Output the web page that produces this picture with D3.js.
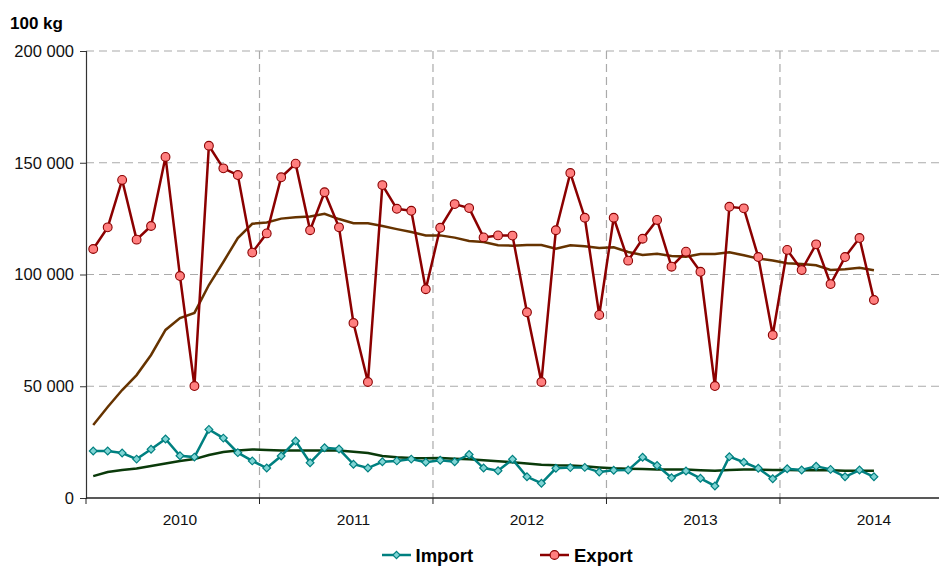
<!DOCTYPE html>
<html><head><meta charset="utf-8">
<script src="https://cdn.jsdelivr.net/npm/d3@7"></script>
<style>body{margin:0;background:#fff;} text{font-family:"Liberation Sans",Arial,sans-serif;}</style>
</head><body>
<svg id="c" width="944" height="566"></svg>
<script>
// Monthly data Jan 2010 .. Jul 2014 (index 0..54), unit 100 kg
const yearLabels = ["2010","2011","2012","2013","2014"];
const yearLabelIndex = [6,18,30,42,54];
const yTicks = [0,50000,100000,150000,200000];

const exportVals = [111400,121100,142300,115600,121700,152600,99300,50100,157600,147500,144500,109800,
  118400,143500,149600,119800,136800,121100,78300,51900,140000,129400,128500,93400,
  120900,131500,129700,116600,117500,117400,83100,51900,119800,145400,125400,81900,
  125400,106200,116000,124400,103500,110200,101200,50100,130300,129600,107800,72900,
  111000,102000,113500,95700,107800,116300,88600];
const exportMA = [32700,40700,48300,55000,64000,75200,80500,82800,95300,105600,116300,122700,
  123300,125000,125600,126000,127200,124800,122900,122900,121700,120300,119000,117500,
  117500,116500,115000,114500,113100,112900,113200,113200,111500,113100,112600,111900,
  112200,110100,108700,109300,108300,108000,109200,109200,109900,108600,107100,106300,
  105000,104700,104100,102000,102300,103000,101900];
const importVals = [21000,21000,20100,17400,21800,26400,18900,18300,30700,26800,20300,16600,
  13400,18800,25500,15800,22500,21900,15100,13400,16200,16600,17400,16000,
  16900,16200,19500,13400,12200,17300,9500,6600,13300,13600,13700,11600,
  12400,12500,18200,14500,9100,12100,8800,5400,18500,16000,13300,8600,
  13100,12500,14200,12800,9500,12500,9500];
const importMA = [9800,11600,12500,13200,14300,15400,16600,17400,19200,20600,21300,21700,
  21500,21300,21200,21200,21200,21200,20700,20100,18800,18200,17900,17800,
  17900,17600,17300,16900,16400,16000,15400,14900,14600,14500,14200,13700,
  13300,13100,13000,12800,12800,12700,12400,12200,12500,12700,12700,12500,
  12500,12400,12400,12400,12200,12200,12200];

const svg = d3.select("#c");
const L = 86, R = 939, T = 51, B = 498;
const x = d3.scaleLinear().domain([0, 59]).range([L, R]);
const xc = i => x(i + 0.5);
const y = d3.scaleLinear().domain([0, 200000]).range([B, T]);

// horizontal grid
svg.append("g").selectAll("line").data(yTicks.filter(d => d > 0)).join("line")
  .attr("x1", L).attr("x2", R).attr("y1", d => y(d)).attr("y2", d => y(d))
  .attr("stroke", "#aaa").attr("stroke-width", 1.2).attr("stroke-dasharray", "8,5");
// vertical grid at year boundaries
const bounds = [12, 24, 36, 48];
svg.append("g").selectAll("line").data(bounds).join("line")
  .attr("x1", d => x(d)).attr("x2", d => x(d)).attr("y1", T).attr("y2", B)
  .attr("stroke", "#aaa").attr("stroke-width", 1.2).attr("stroke-dasharray", "8,5");

// y axis
const yAxis = d3.axisLeft(y).tickValues(yTicks).tickSize(6).tickPadding(6)
  .tickFormat(d => d3.format(",")(d).replace(/,/g, " "));
const gy = svg.append("g").attr("transform", `translate(${L},0)`).call(yAxis);
gy.select(".domain").attr("stroke", "#333").attr("stroke-width", 1.2);
gy.selectAll(".tick line").attr("stroke", "#333");
gy.selectAll("text").attr("font-size", 16.5).attr("fill", "#111").attr("font-family", "Liberation Sans, Arial, sans-serif");

// x axis line and ticks
svg.append("line").attr("x1", L).attr("x2", R).attr("y1", B).attr("y2", B).attr("stroke", "#222").attr("stroke-width", 1.3);
svg.append("g").selectAll("line").data([0, ...bounds]).join("line")
  .attr("x1", d => x(d)).attr("x2", d => x(d)).attr("y1", B).attr("y2", B + 6).attr("stroke", "#222");
svg.append("g").selectAll("text").data(yearLabels).join("text")
  .attr("x", (d, i) => xc(yearLabelIndex[i])).attr("y", 525)
  .attr("text-anchor", "middle").attr("font-size", 15.5).attr("fill", "#111").text(d => d);

// unit label
svg.append("text").attr("x", 10).attr("y", 29).attr("font-size", 17).attr("font-weight", "bold").text("100 kg");

const line = d3.line().x((d, i) => xc(i)).y(d => y(d));

// moving averages
svg.append("path").datum(exportMA).attr("d", line).attr("fill", "none").attr("stroke", "#663300").attr("stroke-width", 2.5);
svg.append("path").datum(importMA).attr("d", line).attr("fill", "none").attr("stroke", "#0a3a0a").attr("stroke-width", 2.5);

// import
svg.append("path").datum(importVals).attr("d", line).attr("fill", "none").attr("stroke", "#008080").attr("stroke-width", 2.5);
svg.append("g").selectAll("path").data(importVals).join("path")
  .attr("d", d3.symbol().type(d3.symbolSquare).size(30))
  .attr("transform", (d, i) => `translate(${xc(i)},${y(d)}) rotate(45)`)
  .attr("fill", "#7fd4d4").attr("stroke", "#008080").attr("stroke-width", 1.2);

// export
svg.append("path").datum(exportVals).attr("d", line).attr("fill", "none").attr("stroke", "#8b0000").attr("stroke-width", 2.5);
svg.append("g").selectAll("circle").data(exportVals).join("circle")
  .attr("cx", (d, i) => xc(i)).attr("cy", d => y(d)).attr("r", 4.4)
  .attr("fill", "#ff7f7f").attr("stroke", "#8b0000").attr("stroke-width", 1.1);

// legend
const lg = svg.append("g");
lg.append("line").attr("x1", 382).attr("x2", 411).attr("y1", 555).attr("y2", 555).attr("stroke", "#008080").attr("stroke-width", 2.5);
lg.append("path").attr("d", d3.symbol().type(d3.symbolSquare).size(26)).attr("transform", "translate(396.5,555) rotate(45)")
  .attr("fill", "#7fd4d4").attr("stroke", "#008080").attr("stroke-width", 1.2);
lg.append("text").attr("x", 415.5).attr("y", 562).attr("font-size", 18.5).attr("font-weight", "bold").text("Import");
lg.append("line").attr("x1", 540).attr("x2", 569).attr("y1", 555).attr("y2", 555).attr("stroke", "#8b0000").attr("stroke-width", 2.5);
lg.append("circle").attr("cx", 554.5).attr("cy", 555).attr("r", 4.4).attr("fill", "#ff7f7f").attr("stroke", "#8b0000").attr("stroke-width", 1.1);
lg.append("text").attr("x", 574).attr("y", 562).attr("font-size", 18.5).attr("font-weight", "bold").text("Export");
</script>
</body></html>
